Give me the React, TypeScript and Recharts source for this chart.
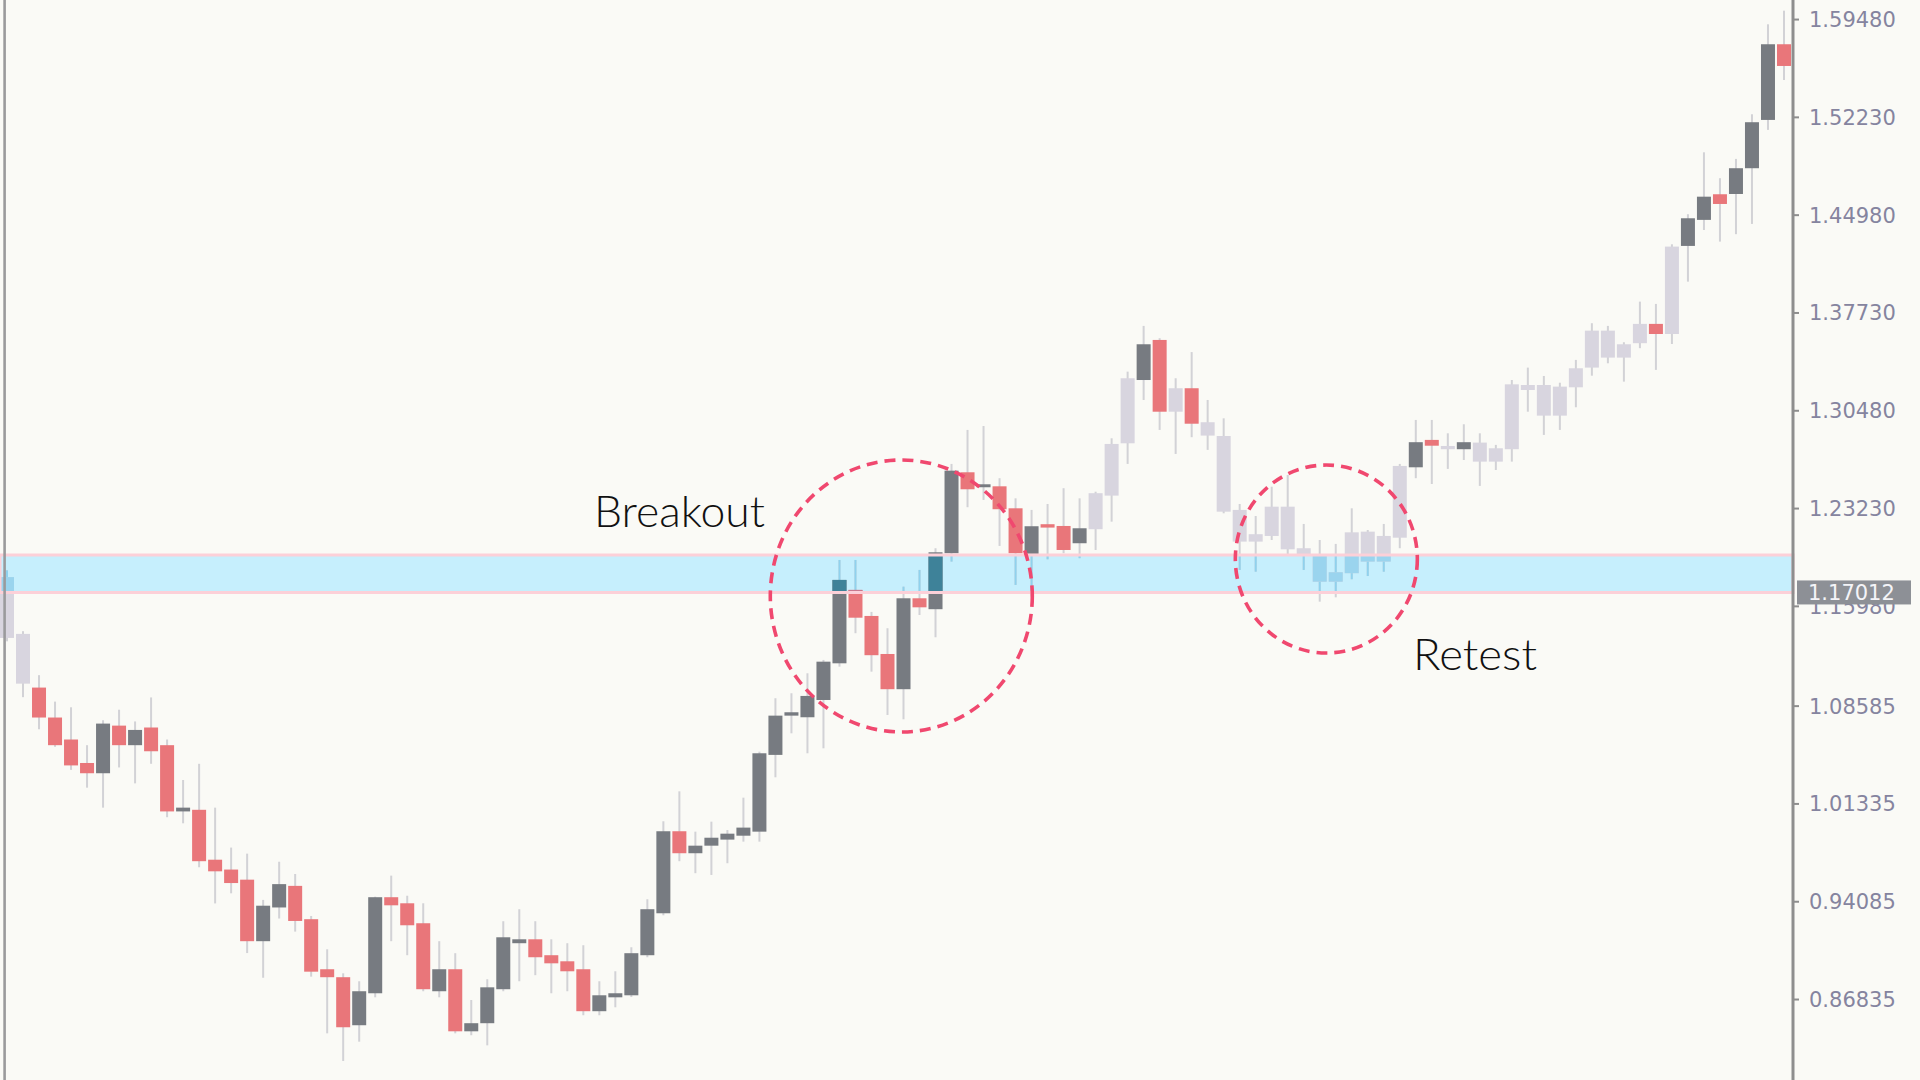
import React from "react";
import {
  Bar,
  ComposedChart,
  ReferenceArea,
  ReferenceDot,
  ReferenceLine,
  XAxis,
  YAxis,
} from "recharts";

// candle prices, left to right
const opens = [
  1.1815, 1.1394, 1.0996, 1.0774, 1.0611, 1.0437, 1.0361, 1.0714, 1.0569, 1.07,
  1.0569, 1.0078, 1.009, 0.972, 0.9647, 0.9572, 0.9116, 0.9366, 0.9526, 0.9279,
  0.8908, 0.8849, 0.8493, 0.873, 0.9442, 0.9397, 0.9249, 0.8745, 0.8908, 0.8448,
  0.8508, 0.876, 0.9101, 0.913, 0.9012, 0.8967, 0.8908, 0.8597, 0.87, 0.8715,
  0.9012, 0.9323, 0.9931, 0.9768, 0.9824, 0.9869, 0.9898, 0.9928, 1.0497, 1.0788,
  1.0776, 1.0904, 1.1176, 1.172, 1.1527, 1.1245, 1.0984, 1.1658, 1.1577, 1.1992,
  1.2592, 1.2481, 1.2488, 1.2325, 1.1987, 1.2207, 1.2194, 1.2066, 1.217, 1.2419,
  1.2807, 1.3276, 1.3573, 1.3041, 1.3215, 1.2963, 1.2861, 1.2313, 1.2133, 1.212,
  1.2337, 1.2029, 1.1979, 1.1781, 1.1844, 1.193, 1.212, 1.2107, 1.2629, 1.2832,
  1.2787, 1.2763, 1.2812, 1.2671, 1.2763, 1.3239, 1.3239, 1.3012, 1.3222, 1.3368,
  1.3642, 1.3442, 1.3549, 1.3692, 1.3617, 1.427, 1.4463, 1.4653, 1.4655, 1.4846,
  1.5204, 1.5765,
];
const highs = [
  1.1865, 1.1414, 1.1088, 1.0892, 1.085, 1.0569, 1.0754, 1.0832, 1.0745, 1.0923,
  1.0611, 1.0311, 1.0431, 1.0106, 0.981, 0.9765, 0.9422, 0.9705, 0.9614, 0.9303,
  0.9056, 0.8878, 0.8819, 0.9446, 0.9602, 0.9453, 0.9397, 0.9116, 0.9027, 0.868,
  0.8834, 0.9264, 0.9353, 0.9264, 0.913, 0.9101, 0.9086, 0.8819, 0.8893, 0.9071,
  0.9427, 1.0005, 1.0227, 0.9928, 1.0002, 0.994, 1.018, 1.0521, 1.0917, 1.0954,
  1.1102, 1.1201, 1.1942, 1.1942, 1.1557, 1.1436, 1.1744, 1.1868, 1.2029, 1.2654,
  1.2906, 1.2935, 1.2548, 1.2399, 1.2313, 1.2357, 1.2474, 1.2399, 1.2448, 1.2844,
  1.3338, 1.3677, 1.3586, 1.3289, 1.3483, 1.3128, 1.2992, 1.2357, 1.2268, 1.2485,
  1.2572, 1.2209, 1.209, 1.2061, 1.2325, 1.2164, 1.2209, 1.2654, 1.298, 1.298,
  1.2881, 1.2948, 1.2881, 1.2795, 1.3276, 1.3368, 1.3306, 1.3256, 1.3425, 1.3697,
  1.3677, 1.3556, 1.3857, 1.384, 1.4282, 1.4505, 1.4964, 1.4772, 1.4915, 1.5246,
  1.5913, 1.6014,
];
const lows = [
  1.1339, 1.0925, 1.0687, 1.0557, 1.0386, 1.0254, 1.0106, 1.0404, 1.0286, 1.0431,
  1.0035, 0.999, 0.9664, 0.9396, 0.9471, 0.9028, 0.8845, 0.9284, 0.9187, 0.8853,
  0.8433, 0.8228, 0.8371, 0.87, 0.9116, 0.9012, 0.8745, 0.87, 0.8433, 0.8419,
  0.8344, 0.8745, 0.8819, 0.8864, 0.873, 0.8745, 0.8567, 0.8567, 0.8626, 0.8702,
  0.8997, 0.9308, 0.9709, 0.962, 0.9607, 0.9694, 0.9854, 0.9854, 1.0331, 1.0657,
  1.0509, 1.0546, 1.1151, 1.1399, 1.1114, 1.0793, 1.0761, 1.1534, 1.1369, 1.193,
  1.2333, 1.2387, 1.2046, 1.1757, 1.167, 1.1947, 1.1992, 1.1955, 1.2016, 1.2226,
  1.2654, 1.3128, 1.2906, 1.2728, 1.2852, 1.2758, 1.2288, 1.1868, 1.1855, 1.209,
  1.1979, 1.1868, 1.1633, 1.1665, 1.1799, 1.1823, 1.1855, 1.2029, 1.2548, 1.2505,
  1.2617, 1.2683, 1.2491, 1.2609, 1.2671, 1.3041, 1.2869, 1.2906, 1.3074, 1.3308,
  1.34, 1.3264, 1.3512, 1.3351, 1.3543, 1.4005, 1.4388, 1.4302, 1.4357, 1.4433,
  1.513, 1.55,
];
const closes = [
  1.1364, 1.1025, 1.0774, 1.0569, 1.0419, 1.0361, 1.0729, 1.0569, 1.0682, 1.0524,
  1.0078, 1.0106, 0.9709, 0.9634, 0.9547, 0.9116, 0.9379, 0.9539, 0.9266, 0.889,
  0.8849, 0.8478, 0.8745, 0.9442, 0.9382, 0.9234, 0.876, 0.8908, 0.8448, 0.8508,
  0.8774, 0.9145, 0.913, 0.8997, 0.8952, 0.8893, 0.8597, 0.8715, 0.873, 0.9027,
  0.9353, 0.9931, 0.9768, 0.9824, 0.9883, 0.9913, 0.9958, 1.0509, 1.0788, 1.0813,
  1.0934, 1.1188, 1.1794, 1.1514, 1.1236, 1.0984, 1.1658, 1.1591, 1.1999, 1.2604,
  1.2466, 1.2503, 1.2318, 1.1992, 1.2192, 1.2182, 1.2016, 1.2177, 1.2437, 1.2802,
  1.3289, 1.3541, 1.3041, 1.3215, 1.2952, 1.2864, 1.23, 1.2078, 1.2078, 1.2337,
  1.2021, 1.1977, 1.1781, 1.1851, 1.2147, 1.2152, 1.193, 1.2639, 1.2815, 1.2789,
  1.2763, 1.2815, 1.2671, 1.277, 1.3244, 1.3202, 1.3012, 1.3227, 1.3363, 1.3642,
  1.3442, 1.3541, 1.3692, 1.3617, 1.4265, 1.4475, 1.4635, 1.4581, 1.4846, 1.5187,
  1.5765, 1.5604,
];

// candles (1-based) drawn faded in the screenshot
const fadedCandles = [
  1, 2, 69, 70, 71, 74, 76, 77, 78, 79, 80, 81, 82, 83, 84, 85, 86, 87, 88, 91,
  93, 94, 95, 96, 97, 98, 99, 100, 101, 102, 103, 105,
];

const priceTicks = [
  1.5948, 1.5223, 1.4498, 1.3773, 1.3048, 1.2323, 1.1598, 1.08585, 1.01335,
  0.94085, 0.86835,
];
const priceDomain: [number, number] = [0.8087, 1.6093];

// support / resistance zone
const zoneLow = 1.17012;
const zoneHigh = 1.1979;
const currentPrice = 1.17012;

// dashed rings: center in candle index and price
const rings = [
  { pos: 56.8, price: 1.1675 },
  { pos: 83.35, price: 1.1949 },
];
const ringRadii = [
  [131, 136],
  [91, 94],
];

const WIDTH = 1920;
const HEIGHT = 1080;
const AXIS_W = 127;
const SLOT = (WIDTH - AXIS_W) / opens.length;

const BG = "#fafaf6";
const COLORS = { up: "#777b81", down: "#e9767a", faded: "#d8d5df", wick: "#d2d2d6" };
const TINT = { up: "#3e8299", down: "#c9798e", faded: "#9ad4ee", wick: "#8fd2ee" };

const data = opens.map((o, i) => ({
  i: i + 1,
  o,
  h: highs[i],
  l: lows[i],
  c: closes[i],
  range: [lows[i], highs[i]],
  faded: fadedCandles.includes(i + 1),
}));

function Candle(props: any) {
  let { x, y, width, height } = props;
  const { o, h, l, c, faded } = props.payload;
  if (height < 0) {
    y += height;
    height = -height;
  }
  const span = h - l || 1e-9;
  const py = (v: number) => y + ((h - v) / span) * height;
  const cx = x + width / 2 - 1;
  const bw = Math.min(width, 14);
  const up = c >= o;
  const key = faded ? "faded" : up ? "up" : "down";

  const bodyTop = py(Math.max(o, c));
  let bodyBot = py(Math.min(o, c));
  if (bodyBot - bodyTop < 2.5) bodyBot = bodyTop + 2.5;

  const zTop = py(zoneHigh);
  const zBot = py(zoneLow);
  const clip = (a: number, b: number) => [Math.max(a, zTop), Math.min(b, zBot)];
  const [wa, wb] = clip(y, y + height);
  const [ba, bb] = clip(bodyTop, bodyBot);

  return (
    <g>
      <rect x={cx - 1} y={y} width={2} height={height} fill={COLORS.wick} />
      {wb > wa && <rect x={cx - 1} y={wa} width={2} height={wb - wa} fill={TINT.wick} />}
      <rect x={cx - bw / 2} y={bodyTop} width={bw} height={bodyBot - bodyTop} fill={COLORS[key]} />
      {bb > ba && <rect x={cx - bw / 2} y={ba} width={bw} height={bb - ba} fill={TINT[key]} />}
    </g>
  );
}

function Ring(idx: number) {
  const [rx, ry] = ringRadii[idx];
  const shift = (rings[idx].pos - Math.round(rings[idx].pos)) * SLOT;
  return (p: any) => (
    <ellipse
      cx={p.cx + shift}
      cy={p.cy}
      rx={rx}
      ry={ry}
      fill="none"
      stroke="#f0486f"
      strokeWidth={3.6}
      strokeDasharray="11 7"
    />
  );
}

function PriceTag(props: any) {
  const vb = props.viewBox || {};
  const left = vb.x + vb.width + 4;
  const cy = vb.y;
  return (
    <g>
      <rect x={left} y={cy - 12} width={114} height={24} fill="#8d9096" />
      <text
        x={left + 11}
        y={cy}
        dy="0.36em"
        fill="#f4f4f8"
        fontSize={21}
        fontFamily="DejaVu Sans, sans-serif"
      >
        {currentPrice.toFixed(5)}
      </text>
    </g>
  );
}

export default function App() {
  return (
    <div
      style={{
        position: "absolute",
        left: 0,
        top: 0,
        width: WIDTH,
        height: HEIGHT,
        background: BG,
        overflow: "hidden",
      }}
    >
      <ComposedChart
        width={WIDTH}
        height={HEIGHT}
        data={data}
        margin={{ top: 0, right: 0, bottom: 0, left: 0 }}
        barCategoryGap={1}
      >
        <XAxis dataKey="i" hide />
        <YAxis
          orientation="right"
          domain={priceDomain}
          allowDataOverflow
          type="number"
          ticks={priceTicks}
          interval={0}
          width={AXIS_W}
          tickSize={6}
          tickMargin={10}
          tickFormatter={(v) => Number(v).toFixed(5)}
          axisLine={{ stroke: "#8e8e8e", strokeWidth: 3 }}
          tickLine={{ stroke: "#8e8e8e", strokeWidth: 2 }}
          tick={{ fill: "#85849f", fontSize: 21, fontFamily: "DejaVu Sans, sans-serif" }}
        />
        <ReferenceArea
          y1={zoneLow}
          y2={zoneHigh}
          fill="#c6effd"
          fillOpacity={1}
          stroke="none"
          zIndex={-60}
        />
        <Bar dataKey="range" shape={Candle} isAnimationActive={false} />
        <ReferenceArea
          y1={zoneLow}
          y2={zoneHigh}
          fill="none"
          fillOpacity={0}
          stroke="#fcd0d8"
          strokeWidth={3}
          zIndex={350}
        />
        {rings.map((r, idx) => (
          <ReferenceDot
            key={idx}
            x={Math.round(r.pos)}
            y={r.price}
            r={10}
            shape={Ring(idx)}
            zIndex={700}
          />
        ))}
        <ReferenceLine
          y={currentPrice}
          stroke="none"
          label={(p: any) => <PriceTag {...p} />}
          zIndex={2100}
        />
      </ComposedChart>
      <svg
        width={WIDTH}
        height={HEIGHT}
        style={{ position: "absolute", left: 0, top: 0, pointerEvents: "none" }}
      >
        <line x1={4.6} y1={0} x2={4.6} y2={HEIGHT} stroke="#9a9a9c" strokeWidth={2.6} />
        <text
          x={594}
          y={527}
          fontSize={44}
          fontWeight={300}
          fontFamily="Lato, sans-serif"
          fill="#111"
          textLength={171}
          lengthAdjust="spacingAndGlyphs"
        >
          Breakout
        </text>
        <text
          x={1413}
          y={670}
          fontSize={44}
          fontWeight={300}
          fontFamily="Lato, sans-serif"
          fill="#111"
          textLength={124}
          lengthAdjust="spacingAndGlyphs"
        >
          Retest
        </text>
      </svg>
    </div>
  );
}
